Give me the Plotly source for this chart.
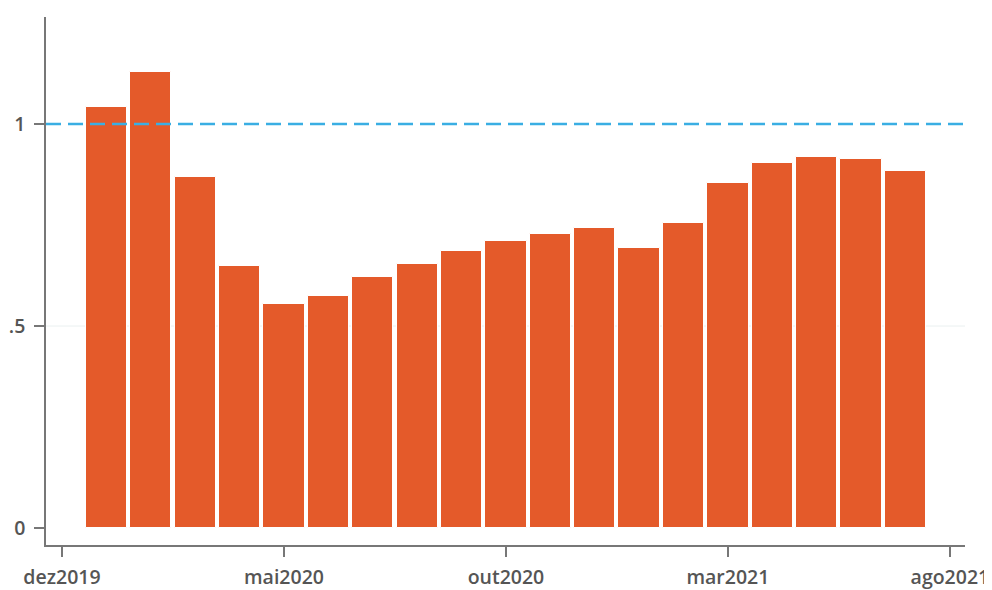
import plotly.graph_objects as go

months = ["jan2020","fev2020","mar2020","abr2020","mai2020","jun2020","jul2020","ago2020",
          "set2020","out2020","nov2020","dez2020","jan2021","fev2021","mar2021","abr2021",
          "mai2021","jun2021","jul2021"]
month_index = list(range(1, 20))
values = [1.042, 1.129, 0.869, 0.649, 0.554, 0.574, 0.621, 0.653, 0.686, 0.710,
          0.728, 0.743, 0.693, 0.755, 0.854, 0.903, 0.918, 0.913, 0.884]
tick_vals = [0, 5, 10, 15, 20]
tick_text = ["dez2019", "mai2020", "out2020", "mar2021", "ago2021"]
ref_level = 1
grid_level = 0.5

fig = go.Figure()
fig.add_shape(type="line", xref="paper", yref="y", x0=0, x1=1, y0=grid_level, y1=grid_level,
              line=dict(color="#eaf0f0", width=1), layer="below")
fig.add_trace(go.Bar(
    x=month_index, y=values, width=0.93,
    marker=dict(color="#e45a2a", line=dict(color="white", width=1)),
    hovertext=months, showlegend=False,
))
fig.add_shape(type="line", xref="paper", yref="y", x0=0, x1=1, y0=ref_level, y1=ref_level,
              line=dict(color="#3aaee3", width=2.5, dash="15px,7px"))

axis_font = dict(family="Open Sans", size=19.5, color="#555555", weight=600)
fig.update_layout(
    width=984, height=582,
    margin=dict(l=38, r=27, t=9, b=45),
    plot_bgcolor="white", paper_bgcolor="white",
    bargap=0,
    xaxis=dict(range=[-0.36, 20.34], tickvals=tick_vals, ticktext=tick_text,
               showgrid=False, zeroline=False, showline=True, linecolor="#777777", linewidth=1.5,
               ticks="outside", ticklen=10, tickcolor="#777777", tickwidth=1.5,
               tickfont=axis_font, automargin=False, ticklabelstandoff=4),
    yaxis=dict(range=[-0.042, 1.265], tickvals=[0, 0.5, 1], ticktext=["0", ".5", "1"],
               showgrid=False, zeroline=False,
               showline=True, linecolor="#777777", linewidth=1.5,
               ticks="outside", ticklen=10, tickcolor="#777777", tickwidth=1.5,
               tickfont=axis_font, automargin=False, ticklabelstandoff=5),
)
fig.write_html("out.html")
